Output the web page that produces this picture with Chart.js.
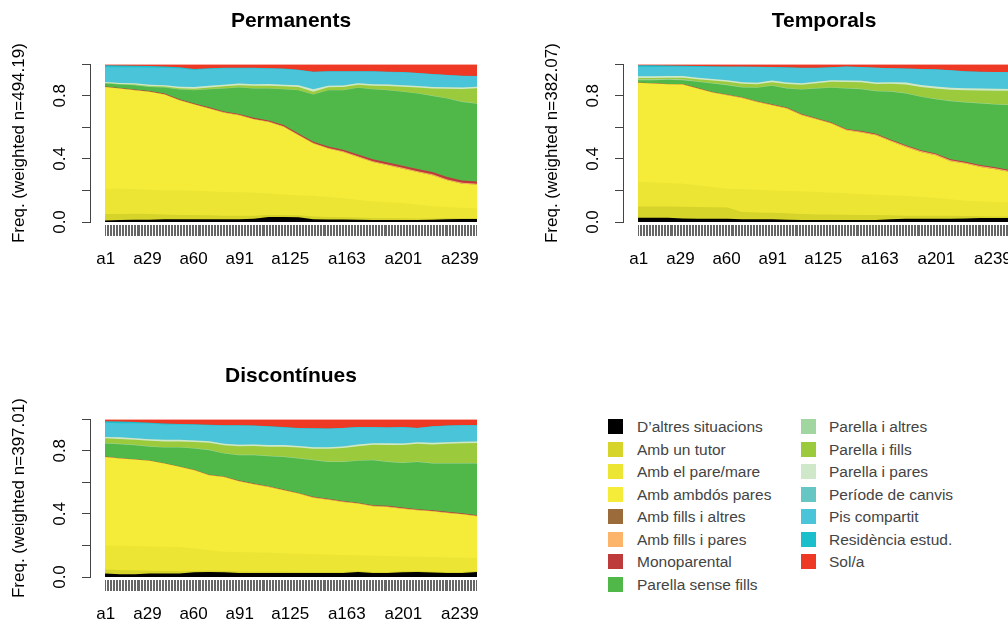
<!DOCTYPE html>
<html>
<head>
<meta charset="utf-8">
<title>Seqdplot</title>
<script src="https://cdn.jsdelivr.net/npm/chart.js@4.4.1/dist/chart.umd.min.js"></script>
<style>
  html, body { margin: 0; padding: 0; background: #fff; }
  body { width: 1008px; height: 620px; overflow: hidden; position: relative; font-family: 'Liberation Sans', Arial, sans-serif; }
  canvas { position: absolute; }
  #legend .sw { position: absolute; width: 15px; height: 15px; }
  #legend .lb { position: absolute; font-size: 15.5px; color: #444; line-height: 17px; white-space: nowrap; }
</style>
</head>
<body>
<canvas id="perm" width="582" height="278" style="left:0;top:0"></canvas>
<canvas id="temp" width="582" height="278" style="left:533px;top:0"></canvas>
<canvas id="disc" width="582" height="278" style="left:0;top:355px"></canvas>
<div id="legend"></div>
<script>
// sample positions along the sequence (a1 .. a250), every 10 steps
const positions = [0.5, 10.5, 20.5, 30.5, 40.5, 50.5, 60.5, 70.5, 80.5, 90.5, 100.5, 110.5, 120.5,
  130.5, 140.5, 150.5, 160.5, 170.5, 180.5, 190.5, 200.5, 210.5, 220.5, 230.5, 240.5, 250.5];

const xTickPositions = [1, 29, 60, 91, 125, 163, 201, 239];
const xTickLabels = ['a1', 'a29', 'a60', 'a91', 'a125', 'a163', 'a201', 'a239'];
const yTicks = [0, 0.2, 0.4, 0.6, 0.8, 1];
const yTickLabels = ['0.0', '', '0.4', '', '0.8', ''];

const stateNames = [
  'D\u2019altres situacions', 'Amb un tutor', 'Amb el pare/mare', 'Amb ambdós pares',
  'Amb fills i altres', 'Amb fills i pares', 'Monoparental', 'Parella sense fills',
  'Parella i altres', 'Parella i fills', 'Parella i pares', 'Període de canvis',
  'Pis compartit', 'Residència estud.', 'Sol/a'
];
const stateColors = [
  '#000000', '#d6d32a', '#ece534', '#f5eb39',
  '#9c6b3b', '#fcb46a', '#bd3b3b', '#50b848',
  '#a2d6a0', '#9bcb3c', '#cfe8c9', '#66c6c4',
  '#49c4d8', '#1bbfcb', '#ee3a25'
];

// Permanents
const permDaltres = [0.010,0.012,0.015,0.015,0.017,0.017,0.017,0.017,0.018,0.018,0.020,0.032,0.032,0.030,0.018,0.016,0.016,0.015,0.013,0.013,0.013,0.013,0.015,0.018,0.019,0.019];
const permTutor = [0.040,0.038,0.037,0.035,0.031,0.028,0.028,0.026,0.022,0.022,0.020,0.013,0.013,0.012,0.017,0.016,0.014,0.013,0.012,0.012,0.010,0.009,0.007,0.007,0.007,0.007];
const permPareMare = [0.160,0.160,0.156,0.155,0.152,0.155,0.153,0.152,0.150,0.148,0.145,0.135,0.130,0.128,0.130,0.126,0.120,0.112,0.105,0.100,0.097,0.088,0.078,0.070,0.064,0.059];
const permAmbdos = [0.646,0.636,0.627,0.620,0.608,0.572,0.546,0.524,0.503,0.489,0.466,0.454,0.428,0.380,0.332,0.307,0.294,0.272,0.250,0.234,0.218,0.207,0.196,0.169,0.153,0.152];
const permFillsAltres = [0,0,0,0,0,0,0,0,0,0,0,0,0,0,0,0,0,0,0,0,0,0,0,0,0,0];
const permFillsPares = [0.000,0.000,0.001,0.001,0.001,0.001,0.002,0.002,0.002,0.002,0.002,0.003,0.003,0.003,0.003,0.004,0.004,0.004,0.005,0.005,0.005,0.005,0.006,0.006,0.006,0.006];
const permMono = [0.003,0.003,0.004,0.004,0.005,0.005,0.005,0.006,0.006,0.006,0.007,0.007,0.008,0.008,0.009,0.010,0.010,0.011,0.012,0.013,0.014,0.014,0.015,0.015,0.014,0.014];
const permSenseFills = [0.018,0.022,0.027,0.026,0.038,0.061,0.084,0.114,0.145,0.167,0.186,0.202,0.227,0.274,0.299,0.356,0.377,0.423,0.444,0.458,0.468,0.478,0.482,0.497,0.498,0.493];
const permParAltres = [0.002,0.002,0.002,0.002,0.002,0.002,0.002,0.002,0.002,0.002,0.002,0.002,0.002,0.002,0.002,0.002,0.002,0.002,0.002,0.002,0.002,0.002,0.002,0.002,0.002,0.002];
const permParFills = [0.002,0.002,0.003,0.004,0.005,0.006,0.008,0.010,0.012,0.013,0.015,0.016,0.017,0.018,0.016,0.017,0.018,0.018,0.020,0.025,0.030,0.036,0.045,0.060,0.080,0.095];
const permParPares = [0.006,0.006,0.007,0.008,0.008,0.010,0.010,0.010,0.010,0.010,0.010,0.010,0.010,0.012,0.015,0.010,0.010,0.010,0.010,0.010,0.010,0.010,0.010,0.010,0.010,0.010];
const permCanvis = [0.001,0.001,0.001,0.001,0.001,0.001,0.001,0.001,0.001,0.001,0.001,0.001,0.001,0.001,0.001,0.001,0.001,0.001,0.001,0.001,0.001,0.001,0.001,0.001,0.001,0.001];
const permPis = [0.094,0.098,0.100,0.108,0.109,0.116,0.109,0.107,0.103,0.096,0.101,0.098,0.099,0.095,0.108,0.088,0.088,0.073,0.080,0.078,0.081,0.081,0.080,0.076,0.072,0.067];
const permResid = [0.012,0.012,0.010,0.009,0.008,0.006,0.005,0.004,0.003,0.003,0.002,0.002,0.002,0.002,0.002,0.002,0.001,0.001,0.001,0.001,0.001,0.001,0.001,0.001,0.001,0.001];
const permSola = [0.006,0.008,0.010,0.012,0.015,0.020,0.030,0.025,0.023,0.023,0.023,0.025,0.028,0.035,0.048,0.045,0.045,0.045,0.045,0.048,0.050,0.055,0.062,0.068,0.073,0.074];

// Temporals
const tempDaltres = [0.027,0.027,0.027,0.022,0.021,0.021,0.021,0.017,0.017,0.017,0.015,0.012,0.012,0.012,0.012,0.012,0.012,0.017,0.020,0.020,0.020,0.020,0.022,0.025,0.025,0.025];
const tempTutor = [0.072,0.072,0.071,0.075,0.074,0.073,0.071,0.046,0.043,0.041,0.040,0.038,0.036,0.035,0.034,0.033,0.033,0.025,0.020,0.020,0.020,0.020,0.016,0.011,0.010,0.010];
const tempPareMare = [0.155,0.151,0.149,0.146,0.138,0.128,0.119,0.144,0.145,0.142,0.142,0.145,0.142,0.139,0.136,0.133,0.128,0.127,0.125,0.119,0.112,0.104,0.097,0.095,0.092,0.092];
const tempAmbdos = [0.628,0.627,0.626,0.628,0.613,0.598,0.592,0.579,0.556,0.540,0.522,0.482,0.461,0.438,0.399,0.389,0.377,0.343,0.311,0.285,0.271,0.241,0.235,0.218,0.207,0.190];
const tempFillsAltres = [0,0,0,0,0,0,0,0,0,0,0,0,0,0,0,0,0,0,0,0,0,0,0,0,0,0];
const tempFillsPares = [0.001,0.001,0.001,0.002,0.002,0.002,0.003,0.003,0.003,0.003,0.004,0.004,0.004,0.004,0.005,0.005,0.005,0.005,0.006,0.006,0.006,0.006,0.006,0.006,0.006,0.006];
const tempMono = [0.001,0.001,0.001,0.001,0.002,0.002,0.002,0.002,0.002,0.003,0.003,0.003,0.003,0.003,0.003,0.004,0.004,0.004,0.005,0.005,0.005,0.006,0.006,0.006,0.007,0.007];
const tempSenseFills = [0.015,0.020,0.026,0.025,0.038,0.053,0.059,0.061,0.084,0.117,0.120,0.155,0.188,0.219,0.257,0.266,0.270,0.304,0.327,0.338,0.344,0.368,0.375,0.390,0.397,0.410];
const tempParAltres = [0.005,0.005,0.005,0.005,0.004,0.004,0.004,0.004,0.003,0.003,0.003,0.003,0.003,0.003,0.003,0.003,0.003,0.003,0.003,0.003,0.003,0.003,0.003,0.003,0.003,0.003];
const tempParFills = [0.008,0.008,0.008,0.010,0.012,0.015,0.018,0.020,0.020,0.020,0.025,0.028,0.030,0.035,0.038,0.040,0.042,0.048,0.055,0.060,0.065,0.070,0.075,0.080,0.085,0.088];
const tempParPares = [0.012,0.012,0.012,0.012,0.010,0.010,0.010,0.010,0.010,0.010,0.010,0.010,0.010,0.010,0.010,0.010,0.010,0.010,0.012,0.012,0.012,0.012,0.012,0.012,0.012,0.012];
const tempCanvis = [0.001,0.001,0.001,0.001,0.001,0.001,0.001,0.001,0.001,0.001,0.001,0.001,0.001,0.001,0.001,0.001,0.001,0.001,0.001,0.001,0.001,0.001,0.001,0.001,0.001,0.001];
const tempPis = [0.059,0.058,0.057,0.057,0.068,0.076,0.083,0.095,0.098,0.083,0.093,0.095,0.086,0.080,0.086,0.085,0.092,0.087,0.086,0.100,0.108,0.110,0.106,0.104,0.105,0.105];
const tempResid = [0.010,0.010,0.008,0.006,0.005,0.004,0.003,0.003,0.002,0.002,0.002,0.002,0.001,0.001,0.001,0.001,0.001,0.001,0.001,0.001,0.001,0.001,0.001,0.001,0.001,0.001];
const tempSola = [0.006,0.007,0.008,0.010,0.012,0.013,0.014,0.015,0.016,0.018,0.020,0.022,0.023,0.020,0.015,0.018,0.022,0.025,0.028,0.030,0.032,0.038,0.045,0.048,0.049,0.050];

// Discontínues
const discDaltres = [0.022,0.017,0.017,0.022,0.022,0.022,0.030,0.032,0.030,0.025,0.025,0.025,0.025,0.025,0.025,0.025,0.025,0.032,0.025,0.025,0.030,0.032,0.028,0.025,0.025,0.032];
const discTutor = [0.025,0.028,0.025,0.018,0.016,0.014,0.008,0.008,0.008,0.010,0.008,0.008,0.008,0.007,0.007,0.007,0.007,0.006,0.007,0.007,0.006,0.006,0.006,0.006,0.006,0.006];
const discPareMare = [0.153,0.153,0.154,0.154,0.154,0.154,0.142,0.130,0.122,0.123,0.122,0.120,0.117,0.116,0.113,0.110,0.108,0.100,0.103,0.101,0.094,0.090,0.092,0.093,0.091,0.082];
const discAmbdos = [0.561,0.553,0.548,0.542,0.527,0.508,0.497,0.475,0.474,0.449,0.433,0.418,0.400,0.381,0.358,0.348,0.336,0.327,0.313,0.311,0.303,0.295,0.290,0.282,0.275,0.265];
const discFillsAltres = [0,0,0,0,0,0,0,0,0,0,0,0,0,0,0,0,0,0,0,0,0,0,0,0,0,0];
const discFillsPares = [0.001,0.001,0.001,0.001,0.001,0.001,0.001,0.002,0.002,0.002,0.002,0.002,0.002,0.002,0.003,0.003,0.003,0.003,0.003,0.003,0.003,0.003,0.003,0.003,0.003,0.003];
const discMono = [0.002,0.001,0.001,0.001,0.001,0.001,0.001,0.001,0.001,0.002,0.002,0.002,0.002,0.002,0.003,0.003,0.003,0.003,0.004,0.004,0.004,0.004,0.004,0.004,0.004,0.004];
const discSenseFills = [0.082,0.089,0.089,0.087,0.099,0.120,0.135,0.155,0.145,0.161,0.180,0.190,0.207,0.218,0.231,0.233,0.247,0.265,0.285,0.278,0.283,0.299,0.296,0.306,0.315,0.327];
const discParAltres = [0.003,0.003,0.003,0.003,0.003,0.003,0.003,0.003,0.003,0.003,0.003,0.003,0.003,0.003,0.003,0.003,0.003,0.003,0.003,0.003,0.003,0.003,0.003,0.003,0.003,0.003];
const discParFills = [0.030,0.030,0.032,0.035,0.036,0.036,0.038,0.045,0.050,0.053,0.055,0.058,0.062,0.066,0.070,0.080,0.085,0.090,0.095,0.105,0.110,0.112,0.118,0.122,0.125,0.127];
const discParPares = [0.008,0.010,0.010,0.010,0.010,0.010,0.010,0.010,0.010,0.010,0.010,0.010,0.010,0.010,0.010,0.010,0.010,0.010,0.010,0.010,0.010,0.010,0.010,0.010,0.010,0.010];
const discCanvis = [0.001,0.001,0.001,0.001,0.001,0.001,0.001,0.001,0.001,0.001,0.001,0.001,0.001,0.001,0.001,0.001,0.001,0.001,0.001,0.001,0.001,0.001,0.001,0.001,0.001,0.001];
const discPis = [0.089,0.089,0.093,0.098,0.097,0.096,0.099,0.100,0.114,0.121,0.117,0.116,0.111,0.112,0.117,0.117,0.116,0.109,0.100,0.099,0.102,0.089,0.103,0.104,0.103,0.101];
const discResid = [0.010,0.010,0.008,0.006,0.005,0.004,0.003,0.003,0.002,0.002,0.002,0.002,0.002,0.002,0.001,0.001,0.001,0.001,0.001,0.001,0.001,0.001,0.001,0.001,0.001,0.001];
const discSola = [0.013,0.015,0.018,0.022,0.028,0.030,0.032,0.035,0.038,0.038,0.040,0.045,0.050,0.055,0.058,0.059,0.055,0.050,0.050,0.052,0.050,0.055,0.045,0.040,0.038,0.038];

const permSeries = [permDaltres, permTutor, permPareMare, permAmbdos, permFillsAltres, permFillsPares, permMono,
  permSenseFills, permParAltres, permParFills, permParPares, permCanvis, permPis, permResid, permSola];
const tempSeries = [tempDaltres, tempTutor, tempPareMare, tempAmbdos, tempFillsAltres, tempFillsPares, tempMono,
  tempSenseFills, tempParAltres, tempParFills, tempParPares, tempCanvis, tempPis, tempResid, tempSola];
const discSeries = [discDaltres, discTutor, discPareMare, discAmbdos, discFillsAltres, discFillsPares, discMono,
  discSenseFills, discParAltres, discParFills, discParPares, discCanvis, discPis, discResid, discSola];

Chart.defaults.font.family = "'Liberation Sans', Arial, sans-serif";
Chart.defaults.color = '#000';

const X_MIN = -9.6;
const X_MAX = 250.5;
const hashPositions = Array.from({ length: 250 }, (_, i) => i + 1);

function seqPlot(canvasId, title, ylab, series) {
  // every state fills down to 0; lower states are drawn on top of higher ones
  const datasets = series.map((values, k) => ({
    label: stateNames[k],
    data: positions.map((x, i) => ({ x: x, y: values[i] })),
    backgroundColor: stateColors[k],
    borderColor: 'rgba(0,0,0,0)',
    borderWidth: 0,
    pointRadius: 0,
    tension: 0,
    fill: 'origin'
  }));

  return new Chart(document.getElementById(canvasId), {
    type: 'line',
    data: { datasets: datasets },
    options: {
      responsive: false,
      animation: false,
      events: [],
      plugins: {
        legend: { display: false },
        tooltip: { enabled: false },
        title: {
          display: true,
          text: title,
          color: '#000',
          font: { size: 21, weight: 'bold' },
          padding: { top: 9, bottom: 30 }
        }
      },
      scales: {
        xTicks: {
          type: 'linear',
          position: 'bottom',
          weight: 0,
          min: X_MIN,
          max: X_MAX,
          afterBuildTicks: (s) => { s.ticks = hashPositions.map(v => ({ value: v })); },
          afterFit: (s) => { s.height = 16; },
          ticks: { display: false },
          border: { display: false },
          grid: {
            drawOnChartArea: false,
            tickLength: 14,
            tickColor: '#666',
            tickWidth: 1,
            tickBorderDash: [0, 3, 11, 0]
          }
        },
        x: {
          type: 'linear',
          position: 'bottom',
          weight: 1,
          min: X_MIN,
          max: X_MAX,
          afterBuildTicks: (s) => { s.ticks = xTickPositions.map(v => ({ value: v })); },
          afterFit: (s) => { s.height = 40; },
          ticks: {
            autoSkip: false,
            maxRotation: 0,
            padding: 3,
            color: '#000',
            font: { size: 17 },
            callback: (v, i) => xTickLabels[i]
          },
          border: { display: false },
          grid: { display: false }
        },
        y: {
          stacked: true,
          min: 0,
          max: 1,
          afterBuildTicks: (s) => { s.ticks = yTicks.map(v => ({ value: v })); },
          afterFit: (s) => { s.width = 90; },
          ticks: {
            minRotation: 90,
            maxRotation: 90,
            crossAlign: 'center',
            padding: 10,
            color: '#000',
            font: { size: 17 },
            callback: (v, i) => yTickLabels[i]
          },
          grid: { drawOnChartArea: false, tickLength: 8, tickColor: '#444', tickWidth: 1 },
          border: { color: '#444', width: 1 },
          title: {
            display: true,
            text: ylab,
            color: '#000',
            font: { size: 17 },
            padding: { top: 9, bottom: 0 }
          }
        },
        pad: {
          type: 'linear',
          position: 'right',
          afterFit: (s) => { s.width = 105; },
          ticks: { display: false },
          grid: { display: false },
          border: { display: false }
        }
      }
    }
  });
}

seqPlot('perm', 'Permanents', 'Freq. (weighted n=494.19)', permSeries);
seqPlot('temp', 'Temporals', 'Freq. (weighted n=382.07)', tempSeries);
seqPlot('disc', 'Discontínues', 'Freq. (weighted n=397.01)', discSeries);

// legend, two columns
const legend = document.getElementById('legend');
stateNames.forEach((name, k) => {
  const col = k < 8 ? 0 : 1;
  const row = k < 8 ? k : k - 8;
  const top = 419 + row * 22.5;
  const sw = document.createElement('div');
  sw.className = 'sw';
  sw.style.left = (col ? 801 : 608) + 'px';
  sw.style.top = top + 'px';
  sw.style.background = stateColors[k];
  legend.appendChild(sw);
  const lb = document.createElement('div');
  lb.className = 'lb';
  lb.style.left = (col ? 829 : 637) + 'px';
  lb.style.top = (top - 1) + 'px';
  lb.textContent = name;
  legend.appendChild(lb);
});
</script>
</body>
</html>
